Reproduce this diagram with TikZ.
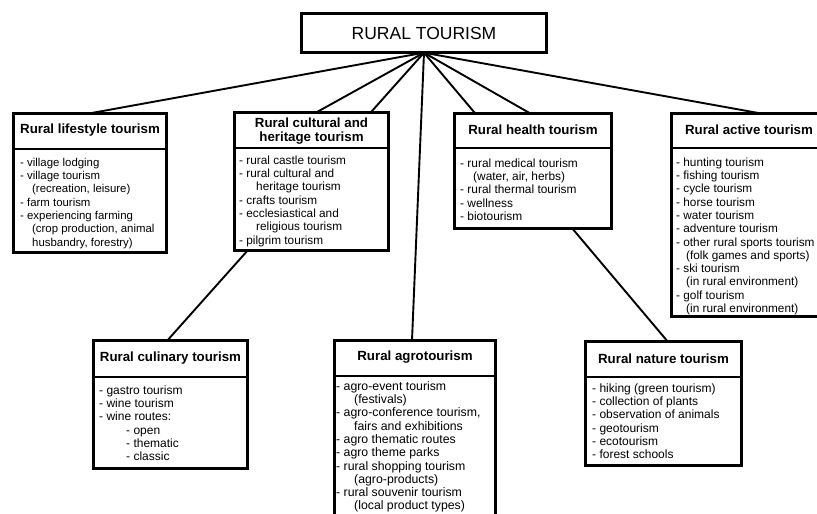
\documentclass[tikz,border=0pt]{standalone}
\usepackage{fontspec}
\setmainfont{Liberation Sans}
\usetikzlibrary{calc}
\pgfdeclarelayer{background}
\pgfsetlayers{background,main}

% A framed category box: name, left, top, right, divider, bottom (outer edges)
\newcommand\catbox[6]{%
  \node[frame, anchor=north west,
        minimum width={#4-#2-2.6}, minimum height={#6-#3-2.6}]
        (#1) at ({#2+1.3},{#3+1.3}) {};
  \draw[divline] (#1.west |- 0,#5) -- (#1.east |- 0,#5);
}

\begin{document}
\begin{tikzpicture}[x=1pt,y=-1pt,
  frame/.style={draw=black, line width=2.6pt, fill=white, inner sep=0pt, outer sep=0pt},
  divline/.style={line width=2.2pt},
  conn/.style={line width=1.9pt},
  hdr/.style={inner sep=0pt, align=center, font=\bfseries\fontsize{13.3}{14}\selectfont},
  bodytxt/.style={inner sep=0pt, align=left, anchor=north west,
                  font=\fontsize{#1}{13.3}\selectfont},
]
\useasboundingbox (0,0) rectangle (817,514);

% root box
\node[frame, minimum width=245.4, minimum height=39.4,
      font=\fontsize{17.5}{20}\selectfont] (top) at (424,33) {RURAL TOURISM};

% category boxes
\catbox{life}{12}{112}{168}{149}{254}
\catbox{cult}{233}{111}{390}{148}{252}
\catbox{health}{453}{112}{613}{148}{230}
\catbox{active}{670}{112}{824}{148}{318}
\catbox{culi}{92}{339}{249}{377}{470}
\catbox{agro}{333}{339}{497}{376}{530}
\catbox{nature}{584}{340}{743}{377}{467}

% headings
\node[hdr] (lifeH) at (90,130.5) {Rural lifestyle tourism};
\node[hdr] (cultH) at (311.5,131) {Rural cultural and\\heritage tourism};
\node[hdr] (healthH) at (533,130) {Rural health tourism};
\node[hdr] (activeH) at (749,130) {Rural active tourism};
\node[hdr] (culiH) at (170.5,358) {Rural culinary tourism};
\node[hdr] (agroH) at (415,357.5) {Rural agrotourism};
\node[hdr] (natureH) at (663.5,358.5) {Rural nature tourism};

% item lists
\node[bodytxt=11.4] (lifeT) at (20,156.7) {\strut- village lodging\\
- village tourism\\
\hspace*{12pt}(recreation, leisure)\\
- farm tourism\\
- experiencing farming\\
\hspace*{12pt}(crop production, animal\\
\hspace*{12pt}husbandry, forestry)};

\node[bodytxt=11.8] (cultT) at (239,154.7) {\strut- rural castle tourism\\
- rural cultural and\\
\hspace*{17pt}heritage tourism\\
- crafts tourism\\
- ecclesiastical and\\
\hspace*{17pt}religious tourism\\
- pilgrim tourism};

\node[bodytxt=11.9] (healthT) at (460,157.7) {\strut- rural medical tourism\\
\hspace*{13pt}(water, air, herbs)\\
- rural thermal tourism\\
- wellness\\
- biotourism};

\node[bodytxt=11.8] (activeT) at (676,156.7) {\strut- hunting tourism\\
- fishing tourism\\
- cycle tourism\\
- horse tourism\\
- water tourism\\
- adventure tourism\\
- other rural sports tourism\\
\hspace*{10pt}(folk games and sports)\\
- ski tourism\\
\hspace*{10pt}(in rural environment)\\
- golf tourism\\
\hspace*{10pt}(in rural environment)};

\node[bodytxt=12] (culiT) at (99,384.7) {\strut- gastro tourism\\
- wine tourism\\
- wine routes:\\
\hspace*{27pt}- open\\
\hspace*{27pt}- thematic\\
\hspace*{27pt}- classic};

\node[bodytxt=12.3] (agroT) at (336,380.7) {\strut- agro-event tourism\\
\hspace*{18pt}(festivals)\\
- agro-conference tourism,\\
\hspace*{18pt}fairs and exhibitions\\
- agro thematic routes\\
- agro theme parks\\
- rural shopping tourism\\
\hspace*{18pt}(agro-products)\\
- rural souvenir tourism\\
\hspace*{18pt}(local product types)};

\node[bodytxt=12] (natureT) at (592,382.7) {\strut- hiking (green tourism)\\
- collection of plants\\
- observation of animals\\
- geotourism\\
- ecotourism\\
- forest schools};

% connectors, drawn beneath the boxes
\begin{pgfonlayer}{background}
\fill[white] (0,0) rectangle (817,514);
\draw[conn] (top.south) -- (life.north);
\draw[conn] (top.south) -- ($(cult.north)+(5,0)$);
\draw[conn] (top.south) -- ($(culi.north)+(-3,0)$);
\draw[conn] (top.south) -- ($(agro.north)+(-3,0)$);
\draw[conn] (top.south) -- ($(health.north)+(-3,0)$);
\draw[conn] (top.south) -- ($(nature.north)+(4,0)$);
\draw[conn] (top.south) -- ($(active.north)+(13,0)$);
\end{pgfonlayer}
\end{tikzpicture}
\end{document}
